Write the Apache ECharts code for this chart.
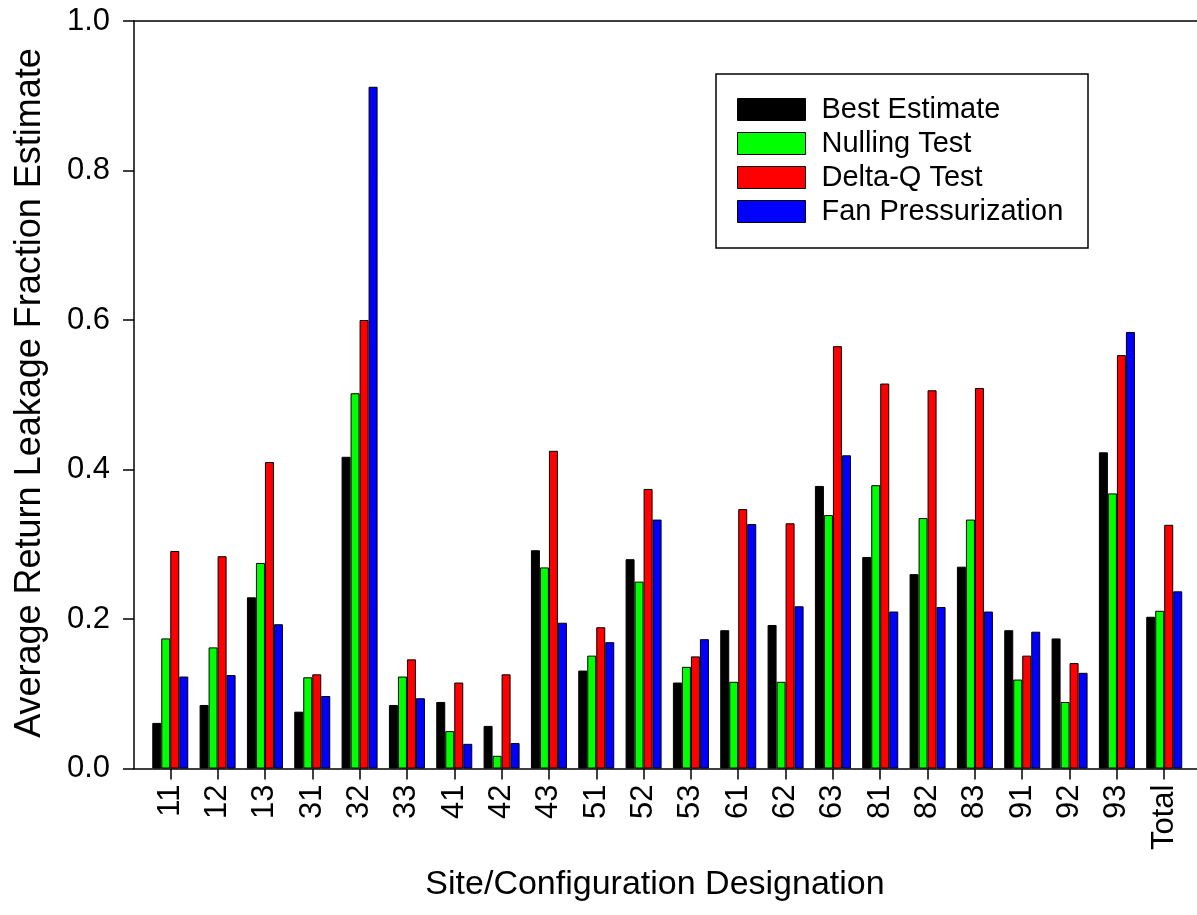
<!DOCTYPE html>
<html>
<head>
<meta charset="utf-8">
<script src="https://cdn.jsdelivr.net/npm/echarts@6/dist/echarts.min.js"></script>
<style>
html,body{margin:0;padding:0;background:#fff;}
#chart{width:1197px;height:915px;}
</style>
</head>
<body>
<div id="chart"></div>
<script>
const categories = ['11','12','13','31','32','33','41','42','43','51','52','53','61','62','63','81','82','83','91','92','93','Total'];
const bestEstimate = [0.061,0.085,0.229,0.076,0.417,0.085,0.089,0.057,0.292,0.131,0.280,0.115,0.185,0.192,0.378,0.283,0.260,0.270,0.185,0.174,0.423,0.203];
const nullingTest = [0.174,0.162,0.275,0.122,0.502,0.123,0.050,0.017,0.269,0.151,0.250,0.136,0.116,0.116,0.339,0.379,0.335,0.333,0.119,0.089,0.368,0.211];
const deltaQTest = [0.291,0.284,0.410,0.126,0.600,0.146,0.115,0.126,0.425,0.189,0.374,0.150,0.347,0.328,0.565,0.515,0.506,0.509,0.151,0.141,0.553,0.326];
const fanPressurization = [0.123,0.125,0.193,0.097,0.912,0.094,0.033,0.034,0.195,0.169,0.333,0.173,0.327,0.217,0.419,0.210,0.216,0.210,0.183,0.128,0.584,0.237];
const seriesNames = ['Best Estimate','Nulling Test','Delta-Q Test','Fan Pressurization'];
const seriesColors = ['#000000','#00ff00','#ff0000','#0000ff'];
const yTicks = [0, 0.2, 0.4, 0.6, 0.8, 1.0];

const FONT = "'Liberation Sans', Arial, Helvetica, sans-serif";
const chart = echarts.init(document.getElementById('chart'), null, {renderer:'canvas'});
const seriesData = [bestEstimate, nullingTest, deltaQTest, fanPressurization];

const option = {
  animation: false,
  backgroundColor: '#ffffff',
  textStyle: {fontFamily: FONT},
  grid: [
    {left: 134, right: 0, top: 21, bottom: 146.5},
    {left: 146.6, right: 9.1, top: 21, bottom: 146.5}
  ],
  xAxis: [
    {type: 'category', gridIndex: 0, position: 'bottom', data: categories,
     axisLine: {show: true, lineStyle: {color: '#000', width: 1.5}},
     axisTick: {show: false}, axisLabel: {show: false}, splitLine: {show: false}},
    {type: 'category', gridIndex: 0, position: 'top', data: categories,
     axisLine: {show: true, lineStyle: {color: '#000', width: 1.5}},
     axisTick: {show: false}, axisLabel: {show: false}, splitLine: {show: false}},
    {type: 'category', gridIndex: 1, position: 'bottom', data: categories,
     axisLine: {show: false},
     axisTick: {show: true, alignWithLabel: true, length: 11, lineStyle: {color: '#000', width: 1.5}},
     axisLabel: {show: true, rotate: 90, margin: 16, interval: 0, color: '#000', fontSize: 31, fontFamily: FONT},
     splitLine: {show: false}}
  ],
  yAxis: [
    {type: 'value', gridIndex: 0, min: 0, max: 1, interval: 0.2,
     axisLine: {show: true, lineStyle: {color: '#000', width: 1.5}},
     axisTick: {show: true, inside: false, length: 11, lineStyle: {color: '#000', width: 1.5}},
     axisLabel: {show: true, margin: 24, color: '#000', fontSize: 31, fontFamily: FONT,
       formatter: v => v.toFixed(1)},
     splitLine: {show: false}},
    {type: 'value', gridIndex: 1, min: 0, max: 1, interval: 0.2, show: false,
     splitLine: {show: false}}
  ],
  legend: {
    orient: 'vertical', left: 737, top: 95,
    padding: 0, itemWidth: 68, itemHeight: 22, itemGap: 5,
    icon: 'rect',
    data: seriesNames,
    textStyle: {fontSize: 29, color: '#000', fontFamily: FONT, padding: [0,0,0,11]},
    itemStyle: {borderColor: '#000', borderWidth: 1}
  },
  series: seriesNames.map((name, i) => ({
    name: name, type: 'bar', xAxisIndex: 2, yAxisIndex: 1,
    data: seriesData[i], barWidth: 9, barGap: '0%',
    itemStyle: {color: seriesColors[i], borderColor: '#000', borderWidth: 1}
  })),
  graphic: [
    {type: 'rect', shape: {x: 716, y: 74, width: 372, height: 174},
     style: {fill: 'none', stroke: '#000', lineWidth: 1.5}, z: 10},
    {type: 'text', x: 30, y: 393, rotation: Math.PI/2,
     style: {text: 'Average Return Leakage Fraction Estimate', fontSize: 36, fontFamily: FONT, fill: '#000',
       textAlign: 'center', textVerticalAlign: 'middle'}},
    {type: 'text', x: 655, y: 885,
     style: {text: 'Site/Configuration Designation', fontSize: 34, fontFamily: FONT, fill: '#000',
       textAlign: 'center', textVerticalAlign: 'middle'}}
  ]
};
chart.setOption(option);
</script>
</body>
</html>
